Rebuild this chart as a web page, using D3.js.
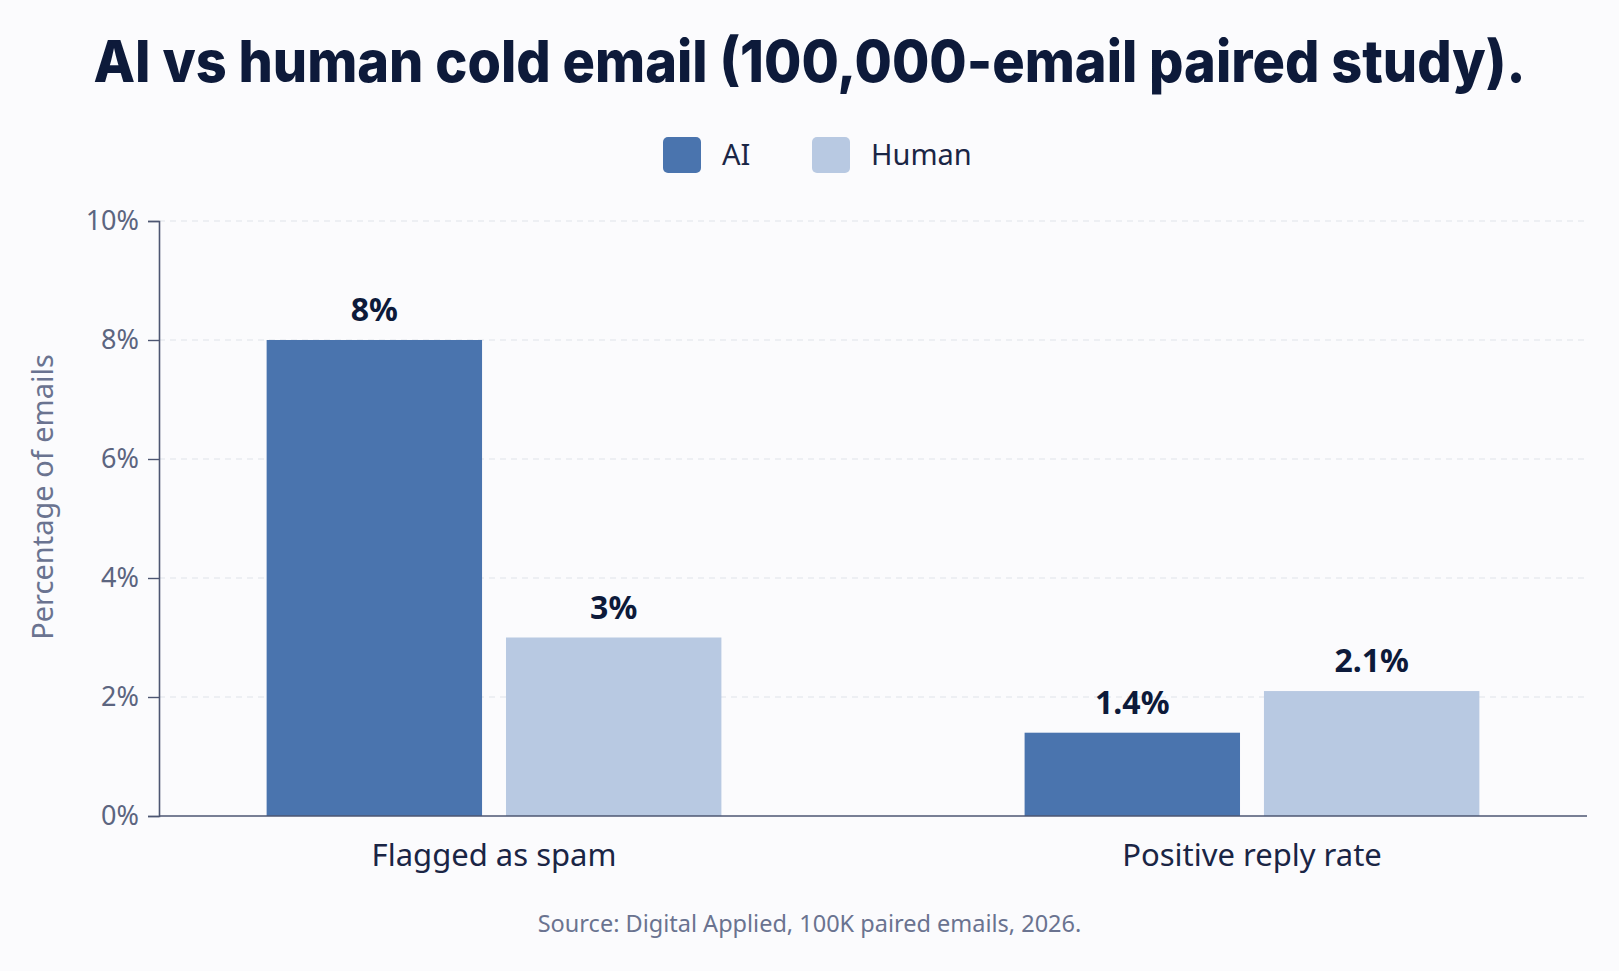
<!DOCTYPE html>
<html>
<head>
<meta charset="utf-8">
<script src="https://cdn.jsdelivr.net/npm/d3@7"></script>
<style>
  html, body { margin: 0; padding: 0; background: #fbfbfd; }
  svg { display: block; }
</style>
</head>
<body>
<svg id="chart"></svg>
<script>
/* ---------- Data ---------- */
const categories = ["Flagged as spam", "Positive reply rate"];
const seriesNames = ["AI", "Human"];
const aiValues    = [8, 1.4];
const humanValues = [3, 2.1];
const valueLabels = [["8%", "3%"], ["1.4%", "2.1%"]];
const yTicks = [0, 2, 4, 6, 8, 10];

/* ---------- Setup ---------- */
const width = 1619, height = 971;
const margin = { top: 221, right: 32, bottom: 155, left: 159 };

const svg = d3.select("#chart").attr("width", width).attr("height", height)
  .attr("viewBox", [0, 0, width, height]);

const color = d3.scaleOrdinal().domain(seriesNames).range(["#4a74ae", "#b8c9e2"]);

const x0 = d3.scaleBand()
  .domain(categories)
  .range([margin.left, width - margin.right])
  .paddingInner(0.4)
  .paddingOuter(0.142);

const x1 = d3.scaleBand()
  .domain(seriesNames)
  .range([0, x0.bandwidth()])
  .paddingInner(0.1);

const y = d3.scaleLinear().domain([0, 10]).range([height - margin.bottom, margin.top]);

const rows = categories.map((c, i) => ({
  category: c,
  values: [
    { key: "AI", value: aiValues[i], label: valueLabels[i][0] },
    { key: "Human", value: humanValues[i], label: valueLabels[i][1] }
  ]
}));

/* ---------- Title ---------- */
const title = svg.append("text")
  .attr("x", width / 2).attr("y", 82)
  .attr("text-anchor", "middle")
  .attr("font-family", "Inter, 'Noto Sans', sans-serif")
  .attr("font-weight", 800).attr("font-size", 58)
  .attr("fill", "#0d1a3a")
  .text("AI vs human cold email (100,000-email paired study).");
// squeeze to the reference width only if the font runs wider
if (title.node().getComputedTextLength() > 1432) {
  title.attr("textLength", 1432).attr("lengthAdjust", "spacingAndGlyphs");
}

/* ---------- Legend ---------- */
const legend = svg.append("g").attr("transform", "translate(663,137)");
const legendX = [0, 149];
seriesNames.forEach((s, i) => {
  const g = legend.append("g").attr("transform", `translate(${legendX[i]},0)`);
  g.append("rect").attr("width", 38).attr("height", 36).attr("rx", 5)
    .attr("fill", color(s));
  g.append("text").attr("x", 59).attr("y", 28)
    .attr("font-family", "'Noto Sans', sans-serif").attr("font-size", 29)
    .attr("fill", "#1a2545").text(s);
});

/* ---------- Grid ---------- */
svg.append("g").selectAll("line")
  .data(yTicks.filter(t => t > 0)).enter().append("line")
    .attr("x1", margin.left).attr("x2", width - margin.right)
    .attr("y1", d => y(d)).attr("y2", d => y(d))
    .attr("stroke", "#dfe3ea").attr("stroke-width", 1.2)
    .attr("stroke-dasharray", "6,5");

/* ---------- Axes ---------- */
const yAxis = svg.append("g")
  .attr("transform", `translate(${margin.left},0)`)
  .call(d3.axisLeft(y).tickValues(yTicks).tickFormat(d => d + "%").tickSize(11).tickPadding(9));
yAxis.select(".domain").attr("stroke", "#4d5672").attr("stroke-width", 1.6);
yAxis.selectAll(".tick line").attr("stroke", "#4d5672").attr("stroke-width", 1.4);
yAxis.selectAll(".tick text")
  .attr("font-family", "'Noto Sans', sans-serif").attr("font-size", 27)
  .attr("fill", "#5c6580");

svg.append("text")
  .attr("transform", "translate(53,497) rotate(-90)")
  .attr("text-anchor", "middle")
  .attr("font-family", "'Noto Sans', sans-serif").attr("font-size", 29)
  .attr("fill", "#6a7390")
  .text("Percentage of emails");

/* ---------- Bars ---------- */
const groups = svg.append("g").selectAll("g")
  .data(rows).enter().append("g")
    .attr("transform", d => `translate(${x0(d.category)},0)`);

groups.selectAll("rect")
  .data(d => d.values).enter().append("rect")
    .attr("x", d => x1(d.key))
    .attr("width", x1.bandwidth())
    .attr("y", d => y(d.value))
    .attr("height", d => y(0) - y(d.value))
    .attr("fill", d => color(d.key));

groups.selectAll("text.val")
  .data(d => d.values).enter().append("text")
    .attr("class", "val")
    .attr("x", d => x1(d.key) + x1.bandwidth() / 2)
    .attr("y", d => y(d.value) - 19)
    .attr("text-anchor", "middle")
    .attr("font-family", "'Noto Sans', sans-serif")
    .attr("font-weight", 700).attr("font-size", 32)
    .attr("fill", "#0d1a3a")
    .text(d => d.label);

/* x baseline drawn over bars */
svg.append("line")
  .attr("x1", margin.left).attr("x2", width - margin.right)
  .attr("y1", y(0)).attr("y2", y(0))
  .attr("stroke", "#4d5672").attr("stroke-width", 1.6);

/* ---------- Category labels ---------- */
svg.append("g").selectAll("text")
  .data(categories).enter().append("text")
    .attr("x", d => x0(d) + x0.bandwidth() / 2)
    .attr("y", 866)
    .attr("text-anchor", "middle")
    .attr("font-family", "'Noto Sans', sans-serif").attr("font-size", 31)
    .attr("fill", "#1a2545")
    .text(d => d);

/* ---------- Source ---------- */
svg.append("text")
  .attr("x", width / 2).attr("y", 932)
  .attr("text-anchor", "middle")
  .attr("font-family", "'Noto Sans', sans-serif").attr("font-size", 23.5)
  .attr("fill", "#6a7390")
  .text("Source: Digital Applied, 100K paired emails, 2026.");
</script>
</body>
</html>
